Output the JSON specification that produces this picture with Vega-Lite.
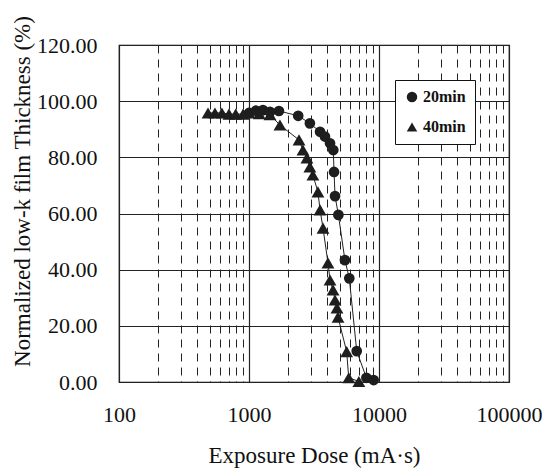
{
  "$schema": "https://vega.github.io/schema/vega-lite/v6.json",
  "width": 390,
  "height": 337,
  "autosize": "none",
  "padding": {"left": 119, "top": 45, "right": 42, "bottom": 94},
  "background": "white",
  "config": {
    "font": "Liberation Serif",
    "view": {"stroke": "black", "strokeWidth": 1.2}
  },
  "data": {
    "values": [
      {"dose": 1000, "thickness": 95.8, "series": "20min"},
      {"dose": 1130, "thickness": 96.6, "series": "20min"},
      {"dose": 1280, "thickness": 96.8, "series": "20min"},
      {"dose": 1450, "thickness": 96.2, "series": "20min"},
      {"dose": 1700, "thickness": 96.5, "series": "20min"},
      {"dose": 2390, "thickness": 94.8, "series": "20min"},
      {"dose": 2940, "thickness": 92.1, "series": "20min"},
      {"dose": 3520, "thickness": 89.1, "series": "20min"},
      {"dose": 3840, "thickness": 87.4, "series": "20min"},
      {"dose": 4200, "thickness": 85.0, "series": "20min"},
      {"dose": 4450, "thickness": 82.6, "series": "20min"},
      {"dose": 4510, "thickness": 74.8, "series": "20min"},
      {"dose": 4590, "thickness": 66.2, "series": "20min"},
      {"dose": 4870, "thickness": 59.5, "series": "20min"},
      {"dose": 5470, "thickness": 43.4, "series": "20min"},
      {"dose": 5910, "thickness": 36.9, "series": "20min"},
      {"dose": 6740, "thickness": 11.0, "series": "20min"},
      {"dose": 8000, "thickness": 1.5, "series": "20min"},
      {"dose": 9100, "thickness": 0.7, "series": "20min"},
      {"dose": 484, "thickness": 95.8, "series": "40min"},
      {"dose": 547, "thickness": 95.8, "series": "40min"},
      {"dose": 619, "thickness": 95.8, "series": "40min"},
      {"dose": 701, "thickness": 95.4, "series": "40min"},
      {"dose": 790, "thickness": 95.4, "series": "40min"},
      {"dose": 900, "thickness": 95.4, "series": "40min"},
      {"dose": 1000, "thickness": 95.8, "series": "40min"},
      {"dose": 1200, "thickness": 95.5, "series": "40min"},
      {"dose": 1450, "thickness": 95.2, "series": "40min"},
      {"dose": 1730, "thickness": 91.5, "series": "40min"},
      {"dose": 2425, "thickness": 86.2, "series": "40min"},
      {"dose": 2600, "thickness": 82.6, "series": "40min"},
      {"dose": 2790, "thickness": 79.8, "series": "40min"},
      {"dose": 2940, "thickness": 76.6, "series": "40min"},
      {"dose": 3100, "thickness": 73.7, "series": "40min"},
      {"dose": 3390, "thickness": 67.7, "series": "40min"},
      {"dose": 3520, "thickness": 61.3, "series": "40min"},
      {"dose": 3710, "thickness": 54.8, "series": "40min"},
      {"dose": 4050, "thickness": 42.4, "series": "40min"},
      {"dose": 4200, "thickness": 36.3, "series": "40min"},
      {"dose": 4430, "thickness": 32.8, "series": "40min"},
      {"dose": 4590, "thickness": 29.2, "series": "40min"},
      {"dose": 4750, "thickness": 26.4, "series": "40min"},
      {"dose": 4840, "thickness": 23.1, "series": "40min"},
      {"dose": 5640, "thickness": 10.8, "series": "40min"},
      {"dose": 5850, "thickness": 1.5, "series": "40min"},
      {"dose": 7000, "thickness": 0.2, "series": "40min"}
    ]
  },
  "encoding": {
    "x": {
      "field": "dose",
      "type": "quantitative",
      "scale": {"type": "log", "domain": [100, 100000], "nice": false},
      "axis": {
        "title": "Exposure Dose (mA\u00b7s)",
        "titleFontSize": 23,
        "titleFontWeight": "normal",
        "titleColor": "#111",
        "titlePadding": 19,
        "values": [100, 200, 300, 400, 500, 600, 700, 800, 900, 1000, 2000, 3000, 4000, 5000, 6000, 7000, 8000, 9000, 10000, 20000, 30000, 40000, 50000, 60000, 70000, 80000, 90000, 100000],
        "labelExpr": "(datum.value == 100 || datum.value == 1000 || datum.value == 10000 || datum.value == 100000) ? datum.label : ''",
        "format": "d",
        "labelFontSize": 22,
        "labelColor": "#111",
        "labelPadding": 22,
        "labelFlush": false,
        "labelOverlap": false,
        "ticks": false,
        "domain": false,
        "grid": true,
        "gridColor": "#222",
        "gridOpacity": 1,
        "gridWidth": {"condition": {"test": "datum.value == 100 || datum.value == 1000 || datum.value == 10000 || datum.value == 100000", "value": 1.2}, "value": 1},
        "gridDash": {"condition": {"test": "datum.value == 100 || datum.value == 1000 || datum.value == 10000 || datum.value == 100000", "value": []}, "value": [8, 6]}
      }
    },
    "y": {
      "field": "thickness",
      "type": "quantitative",
      "scale": {"domain": [0, 120], "nice": false},
      "axis": {
        "title": "Normalized low-k film Thickness (%)",
        "titleFontSize": 23,
        "titleFontWeight": "normal",
        "titleColor": "#111",
        "titleAngle": -90,
        "titleBaseline": "middle",
        "titleX": -97,
        "titleY": 146,
        "values": [0, 20, 40, 60, 80, 100, 120],
        "format": ".2f",
        "labelFontSize": 22,
        "labelColor": "#111",
        "labelPadding": 22,
        "ticks": false,
        "domain": false,
        "grid": true,
        "gridColor": "#222",
        "gridWidth": 1.2,
        "gridOpacity": 1
      }
    }
  },
  "layer": [
    {
      "mark": {"type": "line", "color": "#222", "strokeWidth": 1},
      "encoding": {"detail": {"field": "series"}}
    },
    {
      "transform": [{"filter": "datum.series == '20min'"}],
      "mark": {"type": "point", "filled": true, "opacity": 1, "color": "#1e1e1e", "size": 115},
      "encoding": {
        "shape": {
          "field": "series",
          "type": "nominal",
          "scale": {"domain": ["20min", "40min"], "range": ["circle", "triangle-up"]},
          "legend": {
            "title": null,
            "orient": "none",
            "legendX": 276,
            "legendY": 35,
            "strokeColor": "#111",
            "fillColor": "white",
            "padding": 9,
            "labelFontSize": 16,
            "labelColor": "#111",
            "labelFontWeight": "bold",
            "symbolFillColor": "#1e1e1e",
            "symbolStrokeColor": "#1e1e1e",
            "symbolSize": 110,
            "rowPadding": 13,
            "labelOffset": 3
          }
        }
      }
    },
    {
      "transform": [{"filter": "datum.series == '40min'"}],
      "mark": {"type": "point", "filled": true, "opacity": 1, "color": "#1e1e1e", "size": 165},
      "encoding": {
        "shape": {
          "field": "series",
          "type": "nominal",
          "scale": {"domain": ["20min", "40min"], "range": ["circle", "triangle-up"]}
        }
      }
    }
  ]
}
